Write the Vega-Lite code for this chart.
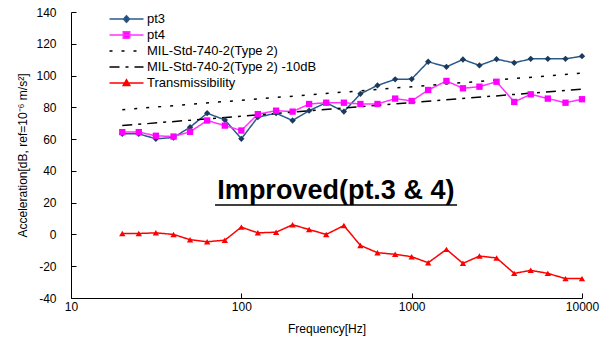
{
  "$schema": "https://vega.github.io/schema/vega-lite/v6.json",
  "width": 511,
  "height": 286,
  "autosize": "none",
  "padding": {"left": 71, "top": 12, "right": 30, "bottom": 53},
  "background": "white",
  "config": {
    "view": {"stroke": null},
    "font": "Liberation Sans",
    "locale": {"number": {"decimal": ".", "thousands": ",", "grouping": [3], "currency": ["$", ""], "minus": "-"}},
    "axis": {
      "grid": false,
      "ticks": true,
      "tickWidth": 1,
      "domainColor": "black",
      "tickColor": "black",
      "labelColor": "black",
      "titleColor": "black",
      "labelFont": "Liberation Sans",
      "titleFont": "Liberation Sans",
      "labelFontSize": 12,
      "titleFontSize": 12,
      "titleFontWeight": "normal"
    }
  },
  "datasets": {
    "main": [
      {"f": 20, "v": 63.3, "s": "pt3"}, {"f": 25, "v": 63.3, "s": "pt3"}, {"f": 31.5, "v": 60.2, "s": "pt3"}, {"f": 40, "v": 61.0, "s": "pt3"},
      {"f": 50, "v": 67.5, "s": "pt3"}, {"f": 63, "v": 76.3, "s": "pt3"}, {"f": 80, "v": 72.1, "s": "pt3"}, {"f": 100, "v": 60.2, "s": "pt3"},
      {"f": 125, "v": 73.8, "s": "pt3"}, {"f": 160, "v": 76.3, "s": "pt3"}, {"f": 200, "v": 71.7, "s": "pt3"}, {"f": 250, "v": 77.9, "s": "pt3"},
      {"f": 315, "v": 82.9, "s": "pt3"}, {"f": 400, "v": 77.3, "s": "pt3"}, {"f": 500, "v": 88.5, "s": "pt3"}, {"f": 630, "v": 93.8, "s": "pt3"},
      {"f": 800, "v": 97.6, "s": "pt3"}, {"f": 1000, "v": 97.8, "s": "pt3"}, {"f": 1250, "v": 108.7, "s": "pt3"}, {"f": 1600, "v": 105.5, "s": "pt3"},
      {"f": 2000, "v": 110.1, "s": "pt3"}, {"f": 2500, "v": 106.4, "s": "pt3"}, {"f": 3150, "v": 110.3, "s": "pt3"}, {"f": 4000, "v": 108.0, "s": "pt3"},
      {"f": 5000, "v": 110.5, "s": "pt3"}, {"f": 6300, "v": 110.5, "s": "pt3"}, {"f": 8000, "v": 110.5, "s": "pt3"}, {"f": 10000, "v": 112.2, "s": "pt3"},

      {"f": 20, "v": 64.4, "s": "pt4"}, {"f": 25, "v": 64.4, "s": "pt4"}, {"f": 31.5, "v": 62.1, "s": "pt4"}, {"f": 40, "v": 61.6, "s": "pt4"},
      {"f": 50, "v": 64.6, "s": "pt4"}, {"f": 63, "v": 71.7, "s": "pt4"}, {"f": 80, "v": 68.5, "s": "pt4"}, {"f": 100, "v": 65.4, "s": "pt4"},
      {"f": 125, "v": 75.7, "s": "pt4"}, {"f": 160, "v": 77.9, "s": "pt4"}, {"f": 200, "v": 77.3, "s": "pt4"}, {"f": 250, "v": 82.1, "s": "pt4"},
      {"f": 315, "v": 82.9, "s": "pt4"}, {"f": 400, "v": 82.9, "s": "pt4"}, {"f": 500, "v": 82.1, "s": "pt4"}, {"f": 630, "v": 82.1, "s": "pt4"},
      {"f": 800, "v": 85.5, "s": "pt4"}, {"f": 1000, "v": 84.0, "s": "pt4"}, {"f": 1250, "v": 90.9, "s": "pt4"}, {"f": 1600, "v": 96.6, "s": "pt4"},
      {"f": 2000, "v": 92.0, "s": "pt4"}, {"f": 2500, "v": 93.0, "s": "pt4"}, {"f": 3150, "v": 96.1, "s": "pt4"}, {"f": 4000, "v": 83.4, "s": "pt4"},
      {"f": 5000, "v": 88.2, "s": "pt4"}, {"f": 6300, "v": 85.5, "s": "pt4"}, {"f": 8000, "v": 82.9, "s": "pt4"}, {"f": 10000, "v": 85.1, "s": "pt4"},

      {"f": 20, "v": 78.5, "s": "MIL-Std-740-2(Type 2)"}, {"f": 10000, "v": 101.5, "s": "MIL-Std-740-2(Type 2)"},
      {"f": 20, "v": 68.5, "s": "MIL-Std-740-2(Type 2) -10dB"}, {"f": 10000, "v": 91.5, "s": "MIL-Std-740-2(Type 2) -10dB"},

      {"f": 20, "v": 0.6, "s": "Transmissibility"}, {"f": 25, "v": 0.6, "s": "Transmissibility"}, {"f": 31.5, "v": 1.0, "s": "Transmissibility"}, {"f": 40, "v": 0.0, "s": "Transmissibility"},
      {"f": 50, "v": -3.3, "s": "Transmissibility"}, {"f": 63, "v": -4.6, "s": "Transmissibility"}, {"f": 80, "v": -3.6, "s": "Transmissibility"}, {"f": 100, "v": 4.6, "s": "Transmissibility"},
      {"f": 125, "v": 1.0, "s": "Transmissibility"}, {"f": 160, "v": 1.4, "s": "Transmissibility"}, {"f": 200, "v": 6.1, "s": "Transmissibility"}, {"f": 250, "v": 3.1, "s": "Transmissibility"},
      {"f": 315, "v": 0.0, "s": "Transmissibility"}, {"f": 400, "v": 5.6, "s": "Transmissibility"}, {"f": 500, "v": -6.9, "s": "Transmissibility"}, {"f": 630, "v": -11.5, "s": "Transmissibility"},
      {"f": 800, "v": -12.5, "s": "Transmissibility"}, {"f": 1000, "v": -14.0, "s": "Transmissibility"}, {"f": 1250, "v": -17.8, "s": "Transmissibility"}, {"f": 1600, "v": -9.4, "s": "Transmissibility"},
      {"f": 2000, "v": -18.2, "s": "Transmissibility"}, {"f": 2500, "v": -13.6, "s": "Transmissibility"}, {"f": 3150, "v": -14.8, "s": "Transmissibility"}, {"f": 4000, "v": -24.5, "s": "Transmissibility"},
      {"f": 5000, "v": -22.6, "s": "Transmissibility"}, {"f": 6300, "v": -24.5, "s": "Transmissibility"}, {"f": 8000, "v": -27.8, "s": "Transmissibility"}, {"f": 10000, "v": -27.8, "s": "Transmissibility"}
    ]
  },
  "resolve": {"axis": {"x": "shared", "y": "shared"}},
  "encoding": {
    "x": {
      "field": "f", "type": "quantitative",
      "scale": {"type": "log", "domain": [10, 10000]},
      "axis": {"values": [10, 100, 1000, 10000], "format": "d", "title": "Frequency[Hz]", "tickSize": -5, "labelPadding": 8, "titlePadding": 11, "labelFlush": false}
    },
    "y": {
      "field": "v", "type": "quantitative",
      "scale": {"domain": [-40, 140], "nice": false, "zero": false},
      "axis": {"tickCount": 10, "format": "d", "title": "Acceleration[dB, ref=10⁻⁶ m/s²]", "tickSize": -5, "labelPadding": 20, "titlePadding": 6, "labelOverlap": false, "labelBound": false}
    }
  },
  "layer": [
    {
      "data": {"name": "main"},
      "mark": {"type": "line", "clip": true},
      "encoding": {
        "color": {
          "field": "s", "type": "nominal",
          "scale": {
            "domain": ["pt3", "pt4", "MIL-Std-740-2(Type 2)", "MIL-Std-740-2(Type 2) -10dB", "Transmissibility"],
            "range": ["#2B5A8A", "#FF33FF", "#000000", "#000000", "#FF0000"]
          },
          "legend": {
            "orient": "none", "legendX": 49, "legendY": 0.5,
            "title": null,
            "symbolType": "stroke",
            "symbolSize": 100,
            "labelFontSize": 13,
            "labelFont": "Liberation Sans",
            "labelColor": "black",
            "labelOffset": 14,
            "labelLimit": 300,
            "rowPadding": 2,
            "padding": 0,
            "symbolStrokeWidth": 1.5,
            "encode": {
              "symbols": {
                "update": {
                  "shape": {"signal": "datum.value==='pt3' ? 'M-3.4,0L3.4,0M0,-0.65L0.6,0L0,0.65L-0.6,0Z' : datum.value==='pt4' ? 'M-3.4,0L3.4,0M-0.65,-0.65L0.65,-0.65L0.65,0.65L-0.65,0.65Z' : datum.value==='Transmissibility' ? 'M-3.4,0L3.4,0M0,-0.65L0.65,0.5L-0.65,0.5Z' : 'M-3.4,0L3.4,0'"},
                  "fill": {"signal": "datum.value==='pt3' ? '#1B3A5E' : datum.value==='pt4' ? '#FF00FF' : datum.value==='Transmissibility' ? '#FF0000' : 'transparent'"},
                  "strokeDash": {"signal": "datum.value==='MIL-Std-740-2(Type 2)' ? [3,9] : datum.value==='MIL-Std-740-2(Type 2) -10dB' ? [10,6,3,6] : [1,0]"},
                  "strokeWidth": {"signal": "datum.value==='MIL-Std-740-2(Type 2) -10dB' ? 2.5 : datum.value==='MIL-Std-740-2(Type 2)' ? 2 : 1.5"},
                  "opacity": {"value": 1}
                }
              }
            }
          }
        },
        "strokeDash": {
          "field": "s", "type": "nominal",
          "scale": {
            "domain": ["pt3", "pt4", "MIL-Std-740-2(Type 2)", "MIL-Std-740-2(Type 2) -10dB", "Transmissibility"],
            "range": [[1, 0], [1, 0], [3, 9], [10, 6, 3, 6], [1, 0]]
          },
          "legend": null
        },
        "strokeWidth": {
          "field": "s", "type": "ordinal",
          "scale": {
            "domain": ["pt3", "pt4", "MIL-Std-740-2(Type 2)", "MIL-Std-740-2(Type 2) -10dB", "Transmissibility"],
            "range": [1.5, 1.5, 2, 2.5, 1.2]
          },
          "legend": null
        }
      }
    },
    {
      "data": {"name": "main"},
      "transform": [{"filter": "datum.s === 'pt3' || datum.s === 'pt4' || datum.s === 'Transmissibility'"}],
      "mark": {"type": "point", "filled": true, "strokeWidth": 0, "opacity": 1, "size": 40},
      "encoding": {
        "shape": {
          "field": "s", "type": "nominal",
          "scale": {"domain": ["pt3", "pt4", "Transmissibility"], "range": ["diamond", "square", "triangle-up"]},
          "legend": null
        },
        "fill": {
          "field": "s", "type": "nominal",
          "scale": {"domain": ["pt3", "pt4", "Transmissibility"], "range": ["#1B3A5E", "#FF00FF", "#FF0000"]},
          "legend": null
        }
      }
    },
    {
      "data": {"values": [{"f": 359, "v": 22.4, "t": "Improved(pt.3 & 4)"}]},
      "mark": {"type": "text", "fontSize": 27, "fontWeight": "bold", "font": "Liberation Sans", "align": "center", "baseline": "alphabetic", "color": "black"},
      "encoding": {
        "text": {"field": "t"}
      }
    },
    {
      "data": {"values": [{"f": 70.1, "f2": 1847, "v": 18.5}]},
      "mark": {"type": "rule", "strokeWidth": 1.5, "color": "black"},
      "encoding": {
        "x2": {"field": "f2"}
      }
    }
  ]
}
